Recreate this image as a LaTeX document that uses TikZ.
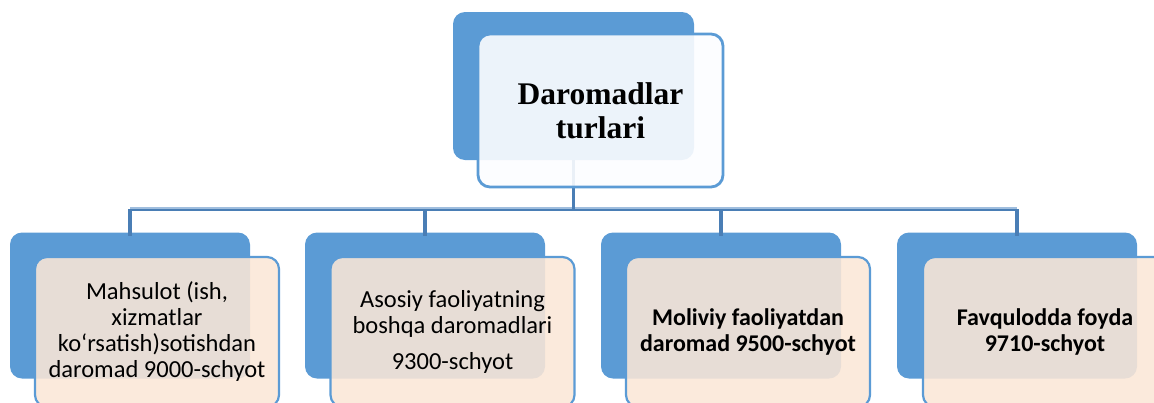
\documentclass[tikz,border=0pt]{standalone}
\usepackage{fontspec}
\setmainfont{Liberation Serif}
\newfontfamily\calfont{Carlito}
\definecolor{backblue}{RGB}{91,155,213}
\definecolor{linkdark}{RGB}{74,126,181}
\definecolor{linklight}{RGB}{160,190,222}
\definecolor{peach}{RGB}{251,231,215}
\definecolor{topfill}{RGB}{252,253,255}
\tikzset{
  backbox/.style={draw=none, fill=backblue, rounded corners=12pt, minimum width=240pt, minimum height=146pt, inner sep=0pt},
  topback/.style={backbox, minimum width=241pt, minimum height=148pt},
  frontbox/.style={draw=backblue, line width=2.2pt, fill=peach, fill opacity=0.88, text opacity=1, rounded corners=12pt, minimum width=244pt, minimum height=150pt, inner sep=0pt, align=center, font=\calfont\fontsize{24.5}{26}\selectfont},
  topfront/.style={frontbox, line width=2.8pt, fill=topfill, fill opacity=0.9, minimum width=245pt, minimum height=153pt, font=\bfseries\fontsize{31.5}{34}\selectfont},
  linkd/.style={draw=linkdark, line width=3.5pt},
  linkl/.style={draw=linklight, line width=3pt}
}
\begin{document}
\begin{tikzpicture}[x=1pt,y=-1pt]
\useasboundingbox (0,0) rectangle (1154,402);
\clip (0,0) rectangle (1154,402);
% back boxes
\node[topback] (tb) at (573.5,86) {};
\node[backbox] (b1) at (130,305.5) {};
\node[backbox] (b2) at (425,305.5) {};
\node[backbox] (b3) at (721,305.5) {};
\node[backbox] (b4) at (1017,305.5) {};
% connectors
\coordinate (bus) at (573.5,209);
\draw[linkl] ([yshift=1pt]b1.north |- bus) -- ([yshift=1pt]b4.north |- bus);
\draw[draw=linkdark, line width=1.5pt] ([yshift=-1pt]b1.north |- bus) -- ([yshift=-1pt]b4.north |- bus);
\draw[linkd] (tb.south) -- (bus);
\foreach \b in {b1,b2,b3,b4} {
  \draw[linkd] (\b.north |- bus) -- ([yshift=-4pt]\b.north);
}
% front boxes
\node[topfront] (tf) at (600.5,110.5) {Daromadlar\\turlari};
\node[frontbox] (f1) at (157,332) {Mahsulot (ish,\\xizmatlar\\ko‘rsatish)sotishdan\\daromad 9000-schyot};
\node[frontbox] (f2) at (452.5,332) {Asosiy faoliyatning\\boshqa daromadlari\\[10pt]9300-schyot};
\node[frontbox, font=\calfont\bfseries\fontsize{24}{26}\selectfont] (f3) at (748,332) {Moliviy faoliyatdan\\daromad 9500-schyot};
\node[frontbox, font=\calfont\bfseries\fontsize{24}{26}\selectfont] (f4) at (1045,332) {Favqulodda foyda\\9710-schyot};
\end{tikzpicture}
\end{document}
